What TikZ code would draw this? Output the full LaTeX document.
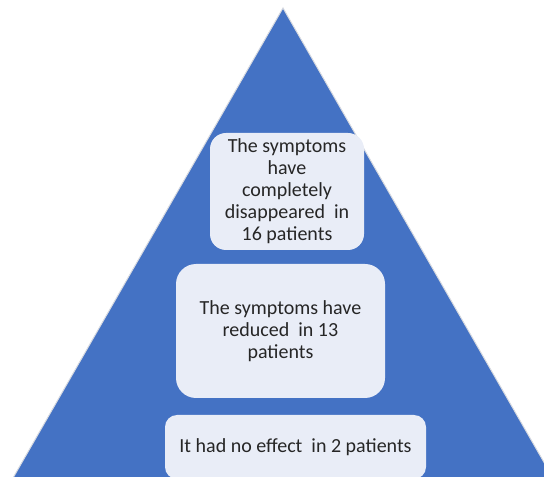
\documentclass[tikz,border=0pt]{standalone}
\usepackage{fontspec}
\setmainfont{Carlito}
\usepackage{tikz}
\usepackage{xcolor}
\usetikzlibrary{positioning}
\definecolor{cBlue}{RGB}{68,114,196}
\definecolor{cPale}{RGB}{233,237,247}
\definecolor{cEdge}{RGB}{215,218,224}
\definecolor{cText}{RGB}{38,38,38}
\tikzset{
	tier/.style={rectangle, draw=none, fill=cPale, align=center, text=cText,
		font=\fontsize{20}{22}\selectfont, inner sep=2pt},
}

\begin{document}
\begin{tikzpicture}[x=1pt, y=1pt]
	\clip (0,0) rectangle (544,477);
	\useasboundingbox (0,0) rectangle (544,477);
	% pyramid
	\coordinate (apex) at (283,469);
	\coordinate (bl) at (13,-1);
	\coordinate (br) at (553,-1);
	\draw[fill=cBlue, draw=cEdge, line width=1pt] (bl) -- (apex) -- (br) -- cycle;
	% tiers, top to bottom
	\node[tier, rounded corners=16pt, minimum width=154pt, minimum height=117pt]
		(top) at (287,285.5) {The symptoms\\ have\\ completely\\ disappeared\ \ in\\ 16 patients};
	\node[tier, rounded corners=20pt, minimum width=209pt, minimum height=134pt]
		(mid) at (280.5,146) {The symptoms have\\ reduced\ \ in 13\\ patients};
	\node[tier, rounded corners=12pt, minimum width=261pt, minimum height=64pt]
		(low) at (295.5,30) {It had no effect\ \ in 2 patients};
\end{tikzpicture}
\end{document}
